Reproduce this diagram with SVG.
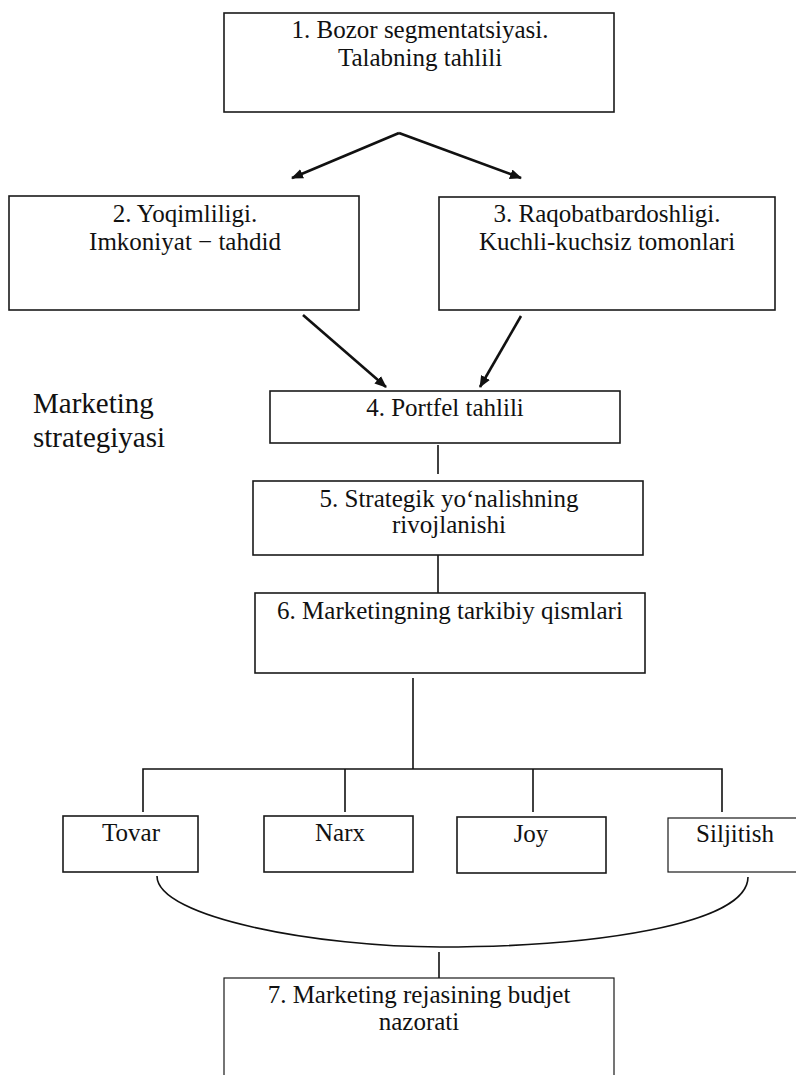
<svg xmlns="http://www.w3.org/2000/svg" width="796" height="1075" viewBox="0 0 796 1075">
  <style>
    .box { fill: #ffffff; stroke: #1a1a1a; stroke-width: 1.6; }
    .box-thin { fill: #ffffff; stroke: #1a1a1a; stroke-width: 1.2; }
    .lbl { font-family: "Liberation Serif", "Times New Roman", serif; font-size: 25px; fill: #111111; text-anchor: middle; }
    .side { font-family: "Liberation Serif", "Times New Roman", serif; font-size: 29px; fill: #111111; }
    .link { fill: none; stroke: #111111; stroke-width: 1.6; }
    .arrow { fill: none; stroke: #111111; stroke-width: 2.6; marker-end: url(#head); }
  </style>
  <defs>
    <marker id="head" viewBox="0 0 12 10" refX="11" refY="5" markerWidth="12" markerHeight="10" markerUnits="userSpaceOnUse" orient="auto">
      <path d="M0,0 L12,5 L0,10 Z" fill="#111111"/>
    </marker>
  </defs>

  <rect width="796" height="1075" fill="#ffffff"/>

  <!-- connectors -->
  <g id="connectors">
    <polyline class="arrow" points="399,133 292,178"/>
    <polyline class="arrow" points="399,133 521,178"/>
    <line class="arrow" x1="303" y1="315" x2="386" y2="387"/>
    <line class="arrow" x1="521" y1="316" x2="480" y2="387"/>
    <line class="link" x1="438" y1="445" x2="438" y2="474"/>
    <line class="link" x1="438" y1="550" x2="438" y2="593"/>
    <line class="link" x1="413" y1="678" x2="413" y2="769"/>
    <polyline class="link" points="143,812 143,769 722,769 722,812"/>
    <line class="link" x1="345" y1="769" x2="345" y2="812"/>
    <line class="link" x1="533" y1="769" x2="533" y2="812"/>
    <path class="link" d="M157,876 C157,918 320,947 440,947 C590,947 748,925 748,877"/>
    <line class="link" x1="439" y1="952" x2="439" y2="978"/>
  </g>

  <g id="node1">
    <rect class="box" x="224" y="13" width="390" height="99"/>
    <text class="lbl" x="420" y="38">1. Bozor segmentatsiyasi.</text>
    <text class="lbl" x="420" y="66">Talabning tahlili</text>
  </g>

  <g id="node2">
    <rect class="box" x="9" y="196" width="350" height="114"/>
    <text class="lbl" x="185" y="222">2. Yoqimliligi.</text>
    <text class="lbl" x="185" y="250">Imkoniyat − tahdid</text>
  </g>

  <g id="node3">
    <rect class="box" x="439" y="197" width="336" height="113"/>
    <text class="lbl" x="607" y="222">3. Raqobatbardoshligi.</text>
    <text class="lbl" x="607" y="250">Kuchli-kuchsiz tomonlari</text>
  </g>

  <g id="strategy-label">
    <text class="side" x="33" y="413">Marketing</text>
    <text class="side" x="33" y="447">strategiyasi</text>
  </g>

  <g id="node4">
    <rect class="box" x="270" y="391" width="350" height="52"/>
    <text class="lbl" x="445" y="416">4. Portfel tahlili</text>
  </g>

  <g id="node5">
    <rect class="box" x="253" y="481" width="390" height="74"/>
    <text class="lbl" x="449" y="507">5. Strategik yo‘nalishning</text>
    <text class="lbl" x="449" y="533">rivojlanishi</text>
  </g>

  <g id="node6">
    <rect class="box" x="255" y="593" width="390" height="80"/>
    <text class="lbl" x="450" y="619">6. Marketingning tarkibiy qismlari</text>
  </g>

  <g id="node-tovar">
    <rect class="box" x="63" y="816" width="135" height="56"/>
    <text class="lbl" x="131" y="841">Tovar</text>
  </g>

  <g id="node-narx">
    <rect class="box" x="264" y="816" width="149" height="56"/>
    <text class="lbl" x="340" y="841">Narx</text>
  </g>

  <g id="node-joy">
    <rect class="box" x="457" y="817" width="149" height="56"/>
    <text class="lbl" x="531" y="842">Joy</text>
  </g>

  <g id="node-siljitish">
    <rect class="box-thin" x="668" y="818" width="140" height="54"/>
    <text class="lbl" x="735" y="842">Siljitish</text>
  </g>

  <g id="node7">
    <rect class="box-thin" x="224" y="978" width="390" height="110"/>
    <text class="lbl" x="419" y="1003">7. Marketing rejasining budjet</text>
    <text class="lbl" x="419" y="1030">nazorati</text>
  </g>
</svg>
